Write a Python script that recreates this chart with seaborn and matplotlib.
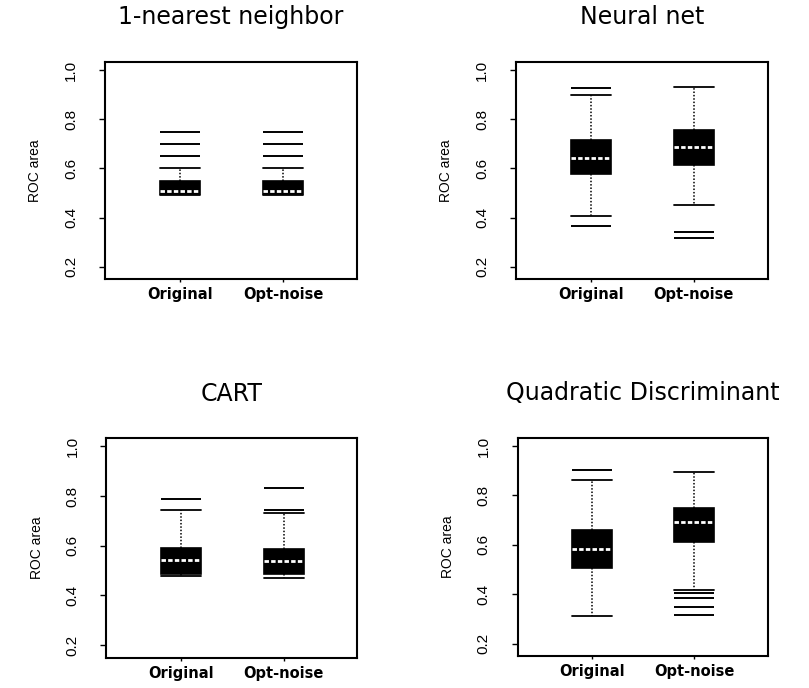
import numpy as np
import pandas as pd
import seaborn as sns
import matplotlib
matplotlib.use("Agg")
import matplotlib.pyplot as plt

# -------------------------------
# Values (ROC area box summaries)
# -------------------------------
models = ["1-nearest neighbor", "Neural net", "CART", "Quadratic Discriminant"]
groups = ["Original", "Opt-noise"]

q1 = [[0.495, 0.495], [0.578, 0.614], [0.486, 0.486], [0.506, 0.613]]
med = [[0.508, 0.507], [0.643, 0.688], [0.543, 0.538], [0.584, 0.692]]
q3 = [[0.549, 0.550], [0.714, 0.755], [0.590, 0.588], [0.661, 0.750]]
lo = [[0.490, 0.492], [0.405, 0.453], [0.476, 0.469], [0.312, 0.416]]
hi = [[0.603, 0.603], [0.899, 0.932], [0.743, 0.733], [0.861, 0.895]]
outliers = [
    [[0.651, 0.699, 0.748], [0.651, 0.700, 0.748]],
    [[0.367, 0.929], [0.317, 0.341]],
    [[0.787], [0.744, 0.831]],
    [[0.903], [0.318, 0.349, 0.386, 0.405]],
]
yticks = [0.2, 0.4, 0.6, 0.8, 1.0]

# -------------------------------
# Long table whose quartiles / whiskers / fliers reproduce the summaries
# -------------------------------
rows = []
for i, m in enumerate(models):
    for j, g in enumerate(groups):
        vals = ([lo[i][j]] + [q1[i][j]] * 20 + [med[i][j]] * 20
                + [q3[i][j]] * 20 + [hi[i][j]] + outliers[i][j])
        rows += [{"model": m, "group": g, "roc": v} for v in vals]
df = pd.DataFrame(rows)

# -------------------------------
# Plot
# -------------------------------
sns.set_style("ticks")
plt.rcParams["font.family"] = ["DejaVu Sans"]
plt.rcParams["text.color"] = "black"
plt.rcParams["xtick.color"] = "black"
plt.rcParams["ytick.color"] = "black"
plt.rcParams["axes.labelcolor"] = "black"

fig = plt.figure(figsize=(8.09, 6.88), dpi=100)
positions = [
    [0.1298, 0.5945, 0.3115, 0.3154],
    [0.6378, 0.5945, 0.3115, 0.3154],
    [0.1316, 0.0443, 0.3100, 0.3190],
    [0.6400, 0.0465, 0.3090, 0.3170],
]

for i, m in enumerate(models):
    ax = fig.add_axes(positions[i])
    sns.boxplot(
        data=df[df["model"] == m], x="group", y="roc", order=groups, ax=ax,
        color="black", linecolor="black", saturation=1, width=0.39,
        whis=1.5, linewidth=1.2, capwidths=0.39,
        medianprops=dict(color="white", linestyle=(0, (1.6, 0.8)), linewidth=2),
        whiskerprops=dict(color="black", linestyle=(0, (1, 1.2)), linewidth=1.1),
        capprops=dict(color="black", linewidth=1.3),
        flierprops=dict(marker="_", markersize=29, markeredgecolor="black",
                        markeredgewidth=1.4),
    )
    ax.set_xlim(-0.73, 1.72)
    ax.set_ylim(0.15, 1.033)
    ax.set_yticks(yticks)
    ax.set_yticklabels([f"{t:.1f}" for t in yticks], rotation=90, va="center",
                       family="Liberation Sans", fontsize=11)
    ax.set_xticks(range(len(groups)))
    ax.set_xticklabels(groups, fontsize=10.5, fontweight="bold")
    ax.tick_params(axis="y", length=4.5, width=1, pad=15)
    ax.tick_params(axis="x", length=2.5, width=1, pad=3.5)
    for s in ax.spines.values():
        s.set_visible(True)
        s.set_linewidth(1.5)
        s.set_color("black")
    ax.set_xlabel("")
    ax.set_ylabel("ROC area", family="Liberation Sans", fontsize=10)
    ax.yaxis.set_label_coords(-0.25, 0.5)
    ax.set_title(m, fontsize=17, pad=27, color="black")

plt.savefig("out.png", dpi=100)
plt.close()
